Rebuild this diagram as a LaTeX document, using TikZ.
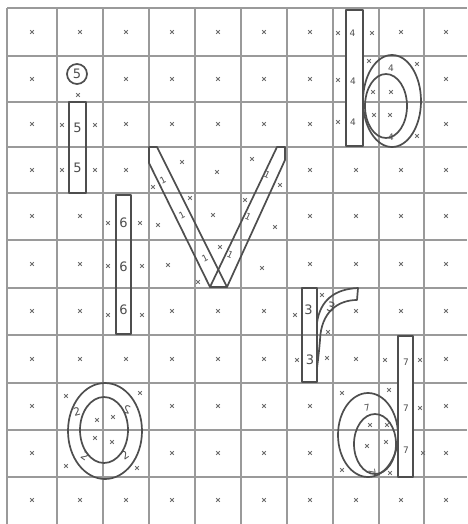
\documentclass[tikz,border=0pt]{standalone}
\usepackage{fontspec}
\setsansfont{DejaVu Sans}
\definecolor{gridc}{HTML}{9A9A9A}
\definecolor{penc}{HTML}{4E4E4E}
\definecolor{markc}{HTML}{6E6E6E}
\begin{document}
\begin{tikzpicture}[x=1pt,y=-1pt,
  gridline/.style={draw=gridc,line width=1.2pt},
  letter/.style={draw=penc,line width=1.7pt,line join=round},
  lab/.style={text=penc,font=\sffamily,inner sep=0pt},
  bigd/.style={lab,font=\sffamily\fontsize{13}{13}\selectfont},
  smalld/.style={lab,font=\sffamily\fontsize{9}{9}\selectfont},
  markline/.style={draw=markc,line width=0.9pt},
  mk/.pic={\draw[markline] (-1.8,-1.8)--(1.8,1.8) (-1.8,1.8)--(1.8,-1.8);}]
\useasboundingbox[fill=white] (0,0) rectangle (467,524);
% grid
\foreach \gx in {7,57,103,149,195,241,287,333,379,424}
  \draw[gridline] (\gx,8) -- (\gx,524);
\foreach \gy in {8,56,102,147,193,240,288,335,383,430,477}
  \draw[gridline] (7,\gy) -- (467,\gy);
% cell-centre marks
\foreach \yy/\xl in {32/{32,80,126,172,218,264,310,401,446},
  79/{32,126,172,218,264,310,446},
  124/{32,126,172,218,264,310,446},
  170/{32,126,310,356,401,446},
  216/{32,80,310,356,401,446},
  264/{32,80,310,356,401,446},
  311/{32,80,172,218,264,356,401,446},
  359/{32,80,126,172,218,264,356,446},
  406/{32,172,218,264,310,446},
  453/{32,172,218,264,310,446},
  500/{32,80,126,172,218,264,310,356,401,446}}
  \foreach \xx in \xl \pic at (\xx,\yy) {mk};
% marks placed around the letters
\foreach \xx/\yy in {78/95,62/125,95/125,62/170,95/170,
  338/33,372/33,338/80,338/122,369/61,417/64,417/136,373/92,391/92,374/115,390/115,
  182/162,217/172,252/159,280/185,153/187,190/198,158/225,213/215,245/200,275/227,168/265,220/247,262/268,198/282,
  108/223,140/223,108/266,142/266,108/315,142/315,
  322/295,295/315,328/332,297/360,327/358,
  385/360,420/360,342/393,389/390,420/408,423/453,342/470,370/425,387/425,367/446,386/442,390/473,
  66/396,140/393,66/466,137/468,97/420,113/417,95/438,112/442}
  \pic at (\xx,\yy) {mk};
% letter i (5)
\node[letter,circle,minimum size=20pt,inner sep=0pt,bigd] (idot) at (77,74) {5};
\draw[letter] (69,102) rectangle (86,193);
\node[bigd] (i1) at (77.5,128) {5};
\node[bigd] (i2) at (77.5,168) {5};
% stem (6)
\draw[letter] (116,195) rectangle (131,334);
\node[bigd] (s1) at (123.5,223) {6};
\node[bigd] (s2) at (123.5,267) {6};
\node[bigd] (s3) at (123.5,310) {6};
% letter V (1)
\draw[letter] (149,147) -- (157,147) -- (227,287) -- (210,287) -- (149,163) -- cycle;
\draw[letter] (277,147) -- (285,147) -- (285,160) -- (227,287) -- (210,287) -- cycle;
\node[smalld,rotate=27] (v1) at (163,180) {1};
\node[smalld,rotate=27] (v2) at (182,215) {1};
\node[smalld,rotate=27] (v3) at (205,258) {1};
\node[smalld,rotate=-25] (v4) at (267,175) {1};
\node[smalld,rotate=-25] (v5) at (248,217) {1};
\node[smalld,rotate=-25] (v6) at (230,255) {1};
% letter b (4)
\draw[letter] (392,101) ellipse [x radius=29, y radius=46];
\draw[letter] (386,106) ellipse [x radius=21, y radius=32];
\draw[letter,fill=white] (346,10) rectangle (363,146);
\node[smalld] (b1) at (352.5,33) {4};
\node[smalld] (b2) at (353,81) {4};
\node[smalld] (b3) at (353,122) {4};
\node[smalld] (b4) at (391,68) {4};
\node[smalld] (b5) at (391,137) {4};
% letter r (3)
\draw[letter] (302,288) rectangle (317,382);
\draw[letter] (317,323) .. controls (320,300) and (335,289) .. (358,288) -- (357,300)
  .. controls (338,300) and (321,312) .. (320,340) .. controls (319,352) and (318,360) .. (317,368);
\node[bigd] (r1) at (308.5,310) {3};
\node[bigd] (r2) at (310,360) {3};
\node[bigd,rotate=-15] (r3) at (331,307) {3};
% letter o (2)
\draw[letter] (105,431) ellipse [x radius=37, y radius=48];
\draw[letter] (104,430) ellipse [x radius=24, y radius=33];
\node[lab,font=\sffamily\fontsize{11}{11}\selectfont,rotate=15] (o1) at (77,412) {2};
\node[lab,font=\sffamily\fontsize{11}{11}\selectfont,rotate=-15,xscale=-1] (o2) at (127,410) {2};
\node[lab,font=\sffamily\fontsize{11}{11}\selectfont,rotate=-35] (o3) at (85,456) {2};
\node[lab,font=\sffamily\fontsize{11}{11}\selectfont,rotate=35] (o4) at (125,455) {2};
% letter d (7)
\draw[letter] (368,435) ellipse [x radius=30, y radius=42];
\draw[letter] (375,444) ellipse [x radius=21, y radius=30];
\draw[letter,fill=white] (398,336) rectangle (413,477);
\node[smalld] (d1) at (406,362) {7};
\node[smalld] (d2) at (406,408) {7};
\node[smalld] (d3) at (406,450) {7};
\node[smalld,rotate=10] (d4) at (367,408) {7};
\node[smalld,rotate=-80] (d5) at (372,472) {7};
\end{tikzpicture}
\end{document}
